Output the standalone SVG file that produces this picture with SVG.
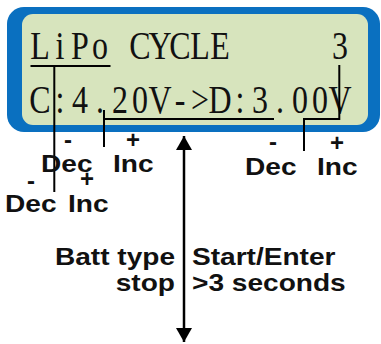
<svg xmlns="http://www.w3.org/2000/svg" width="381" height="344" viewBox="0 0 381 344">
  <style>
    .lcd { font-family: "Liberation Serif", "DejaVu Serif", serif; font-size: 41px; fill: #111; text-anchor: middle; }
    .lbl { font-family: "Liberation Sans", Arial, sans-serif; font-weight: bold; font-size: 24px; fill: #111; }
    .sign { font-family: "Liberation Sans", Arial, sans-serif; font-weight: bold; font-size: 24px; fill: #111; text-anchor: middle; }
    .ln { stroke: #000; stroke-width: 2; fill: none; }
    .arr { stroke: #000; stroke-width: 2.5; fill: none; }
  </style>
  <defs>
    <marker id="ah" viewBox="0 0 14 16" refX="14" refY="8" markerWidth="14" markerHeight="16" markerUnits="userSpaceOnUse" orient="auto-start-reverse">
      <path d="M0,0 L14,8 L0,16 Z" fill="#000"/>
    </marker>
  </defs>

  <g id="lcd">
    <rect x="7" y="7" width="373" height="125" rx="17" ry="17" fill="#0a70c0"/>
    <rect x="22" y="14" width="346" height="111" rx="11" ry="11" fill="#d7e4bd"/>
    <g transform="scale(0.78 1)">
      <text class="lcd" x="51.28 76.92 102.56 128.21 153.85 179.49 205.13 230.77 256.41 282.05" y="59.5">LiPo CYCLE</text>
      <text class="lcd" x="435.90" y="59.5">3</text>
      <text class="lcd" x="51.28 76.92 102.56 128.21 153.85 179.49 205.13 230.77 256.41 282.05 307.69 333.33 358.97 384.62 410.26 435.90" y="113">C:4.20V-&gt;D:3.00V</text>
    </g>
  </g>

  <g id="connectors">
    <path class="ln" d="M30.5,66 H110.5 M54.3,66 V192"/>
    <path class="ln" d="M104,110 V147 M104,119 H274"/>
    <path class="ln" d="M339.3,65 V119 H304 V151"/>
    <line class="arr" x1="184" y1="150" x2="184" y2="326"/>
    <line x1="184" y1="150" x2="184" y2="136" stroke="#000" stroke-width="2.5" marker-end="url(#ah)"/>
    <line x1="184" y1="326" x2="184" y2="342" stroke="#000" stroke-width="2.5" marker-end="url(#ah)"/>
  </g>

  <g id="batt-type-adjust">
    <text class="sign" x="31" y="189">-</text>
    <text class="sign" x="87" y="186.5">+</text>
    <text class="lbl" x="5" y="212" textLength="51.5" lengthAdjust="spacingAndGlyphs">Dec</text>
    <text class="lbl" x="68" y="212" textLength="40.6" lengthAdjust="spacingAndGlyphs">Inc</text>
  </g>

  <g id="charge-voltage-adjust">
    <text class="sign" x="68" y="148">-</text>
    <text class="sign" x="133" y="147.5">+</text>
    <text class="lbl" x="41" y="172" textLength="51.5" lengthAdjust="spacingAndGlyphs">Dec</text>
    <text class="lbl" x="113" y="172" textLength="40.6" lengthAdjust="spacingAndGlyphs">Inc</text>
  </g>

  <g id="discharge-voltage-adjust">
    <text class="sign" x="273" y="150">-</text>
    <text class="sign" x="337" y="150.5">+</text>
    <text class="lbl" x="245" y="175" textLength="51.5" lengthAdjust="spacingAndGlyphs">Dec</text>
    <text class="lbl" x="317" y="175" textLength="40.6" lengthAdjust="spacingAndGlyphs">Inc</text>
  </g>

  <g id="batt-type-stop">
    <text class="lbl" x="55" y="265" textLength="120" lengthAdjust="spacingAndGlyphs">Batt type</text>
    <text class="lbl" x="115.7" y="291" textLength="59.3" lengthAdjust="spacingAndGlyphs">stop</text>
  </g>

  <g id="start-enter">
    <text class="lbl" x="192" y="265" textLength="143.5" lengthAdjust="spacingAndGlyphs">Start/Enter</text>
    <text class="lbl" x="192" y="291" textLength="153.7" lengthAdjust="spacingAndGlyphs">&gt;3 seconds</text>
  </g>
</svg>
